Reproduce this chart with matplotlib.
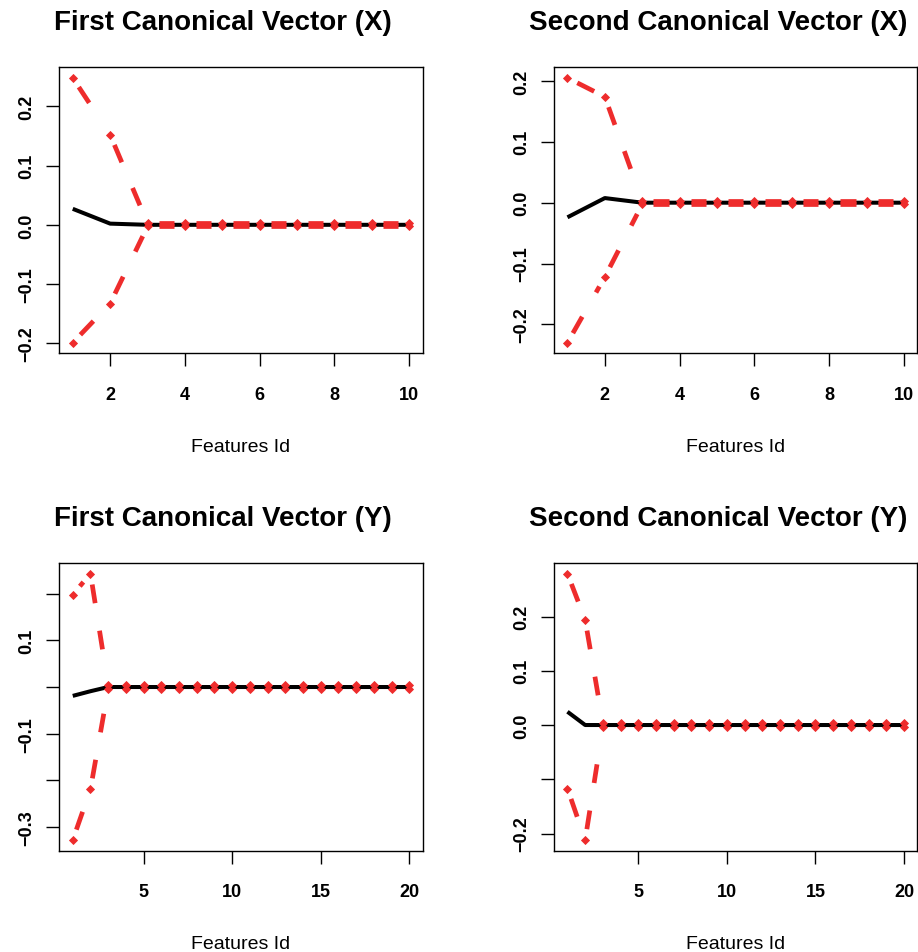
#!/usr/bin/env python3
"""
Canonical vectors (X and Y) with their lower/upper bounds, 2x2 panels in R base style.
"""
import numpy as np
import matplotlib
matplotlib.use('Agg')
import matplotlib.pyplot as plt

# ---- data ----
feat_x = np.arange(1, 11)
feat_y = np.arange(1, 21)

# first canonical vector (X)
x1_est = [0.027, 0.002] + [0.0] * 8
x1_upper = [0.248, 0.152] + [0.0025] * 8
x1_lower = [-0.199, -0.133] + [-0.0025] * 8

# second canonical vector (X)
x2_est = [-0.024, 0.0076] + [0.0] * 8
x2_upper = [0.205, 0.174] + [0.0025] * 8
x2_lower = [-0.230, -0.122] + [-0.0025] * 8

# first canonical vector (Y)
y1_est = [-0.019, -0.009] + [0.0] * 18
y1_upper = [0.198, 0.243] + [0.004] * 18
y1_lower = [-0.328, -0.219] + [-0.004] * 18

# second canonical vector (Y)
y2_est = [0.0245, 0.0] + [0.0] * 18
y2_upper = [0.279, 0.194] + [0.0035] * 18
y2_lower = [-0.117, -0.212] + [-0.0035] * 18

titles = ['First Canonical Vector (X)', 'Second Canonical Vector (X)',
          'First Canonical Vector (Y)', 'Second Canonical Vector (Y)']

xticks_x = [2, 4, 6, 8, 10]
xticks_y = [5, 10, 15, 20]

yticks_top = [-0.2, -0.1, 0.0, 0.1, 0.2]
ylabels_top = ['\u22120.2', '\u22120.1', '0.0', '0.1', '0.2']
yticks_bl = [-0.3, -0.2, -0.1, 0.0, 0.1, 0.2]
ylabels_bl = ['\u22120.3', '', '\u22120.1', '', '0.1', '']
yticks_br = [-0.2, -0.1, 0.0, 0.1, 0.2]
ylabels_br = ['\u22120.2', '', '0.0', '0.1', '0.2']

RED = '#EE2C2C'
W, H, DPI = 918, 953, 100

plt.rcParams['font.family'] = ['Liberation Sans', 'DejaVu Sans']


def r_range(vals):
    """R style axis range: data range padded by 4%"""
    lo, hi = min(vals), max(vals)
    pad = 0.04 * (hi - lo)
    return lo - pad, hi + pad


def linhas_tipo_b(ax, x, y, gap_px=11, **kw):
    """Mimic R type='b': segments cut short around each point"""
    pts = ax.transData.transform(np.column_stack([x, y]))
    inv = ax.transData.inverted()
    for p0, p1 in zip(pts[:-1], pts[1:]):
        d = p1 - p0
        comp = np.hypot(*d)
        if comp <= 2 * gap_px:
            continue
        u = d / comp
        a = inv.transform(p0 + u * gap_px)
        b = inv.transform(p1 - u * gap_px)
        ax.plot([a[0], b[0]], [a[1], b[1]], **kw)


def painel(ax, x, est, upper, lower, title, xticks, yticks, ylabels):
    ax.set_xlim(*r_range(x))
    ax.set_ylim(*r_range(list(est) + list(upper) + list(lower)))

    ax.plot(x, est, color='black', linewidth=2.9, solid_capstyle='butt', zorder=2)

    dash_kw = dict(color=RED, linewidth=3.4, linestyle=(0, (4.0, 5.9)),
                   dash_capstyle='butt', zorder=3)
    for serie in (upper, lower):
        linhas_tipo_b(ax, x, serie, **dash_kw)
        ax.plot(x, serie, linestyle='none', marker='D', markersize=4.4,
                markerfacecolor=RED, markeredgecolor=RED, markeredgewidth=0.6,
                zorder=4)

    ax.set_xticks(xticks)
    ax.set_xticklabels([str(t) for t in xticks])
    ax.set_yticks(yticks)
    ax.set_yticklabels(ylabels, rotation=90, va='center')
    for lab in ax.get_xticklabels() + ax.get_yticklabels():
        lab.set_fontweight('bold')
        lab.set_fontsize(13)

    ax.tick_params(axis='both', direction='out', length=9.4, width=1.0, colors='black')
    ax.tick_params(axis='x', pad=14)
    ax.tick_params(axis='y', pad=8)
    for sp in ax.spines.values():
        sp.set_linewidth(1.0)

    ax.set_title(title, fontsize=20, fontweight='bold', pad=27.5)
    ax.title.set_x(0.5 - 18 / 363.4)  # title sits a bit left of the box centre
    ax.set_xlabel('Features Id', fontsize=14, labelpad=25)


def main():
    fig = plt.figure(figsize=(W / DPI, H / DPI), dpi=DPI)

    left_cols = [59.3, 554.0]
    ax_w = 363.4
    rows = [(68.3, 354.3), (564.0, 851.7)]

    def novo_ax(col, row):
        top, bot = rows[row]
        return fig.add_axes([left_cols[col] / W, 1 - bot / H, ax_w / W, (bot - top) / H])

    painel(novo_ax(0, 0), feat_x, x1_est, x1_upper, x1_lower, titles[0],
           xticks_x, yticks_top, ylabels_top)
    painel(novo_ax(1, 0), feat_x, x2_est, x2_upper, x2_lower, titles[1],
           xticks_x, yticks_top, ylabels_top)
    painel(novo_ax(0, 1), feat_y, y1_est, y1_upper, y1_lower, titles[2],
           xticks_y, yticks_bl, ylabels_bl)
    painel(novo_ax(1, 1), feat_y, y2_est, y2_upper, y2_lower, titles[3],
           xticks_y, yticks_br, ylabels_br)

    fig.savefig('out.png', dpi=DPI)
    plt.close(fig)


if __name__ == '__main__':
    main()
